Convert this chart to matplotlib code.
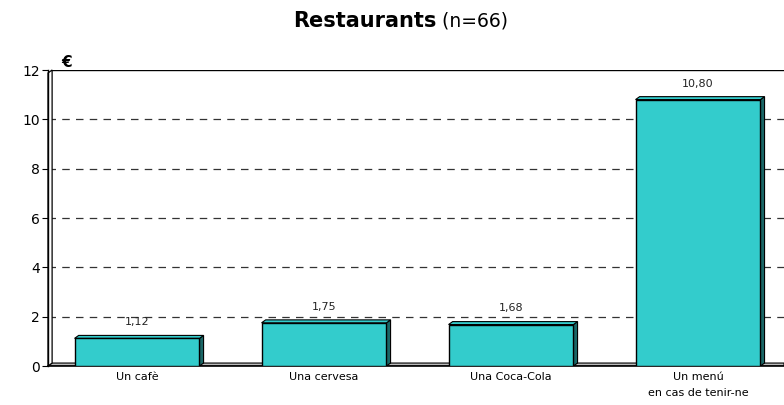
import matplotlib
matplotlib.use("Agg")
import matplotlib.pyplot as plt
from matplotlib.patches import Polygon
import numpy as np

categories = ["Un cafè", "Una cervesa", "Una Coca-Cola", "Un menú\nen cas de tenir-ne"]
values = [1.12, 1.75, 1.68, 10.80]
value_labels = ["1,12", "1,75", "1,68", "10,80"]
yticks = [0, 2, 4, 6, 8, 10, 12]

plt.rcParams['font.family'] = ['DejaVu Sans']

fig = plt.figure(figsize=(7.84, 4.05), dpi=100)
ax = fig.add_axes([48/784, 39/405, 1 - 48/784, (366-70)/405])

x = np.arange(len(categories))
w = 0.668
face = "#33CCCC"
side = "#1A6666"
dx = 0.022  # depth offset in x (data units)
dy = 0.12   # depth offset in y (data units)
xl, xr = -0.476, 3.46

ax.set_xlim(xl, xr)
ax.set_ylim(0, 12)

for yv in yticks[1:-1]:
    ax.axhline(yv, color="#333333", lw=0.9, ls=(0, (6, 5)), zorder=1)
ax.plot([xl + dx, xr], [12, 12], color="black", lw=1.0, zorder=1)

# left wall
ax.add_patch(Polygon([[xl, 0], [xl + dx, dy], [xl + dx, 12], [xl, 12 - dy]],
                     closed=True, facecolor="white", edgecolor="black", lw=0.9, zorder=1.7,
                     clip_on=False))
# floor
ax.add_patch(Polygon([[xl, 0], [xl + dx, dy], [xr, dy], [xr, 0]],
                     closed=True, facecolor="#BBBBBB", edgecolor="black", lw=0.8, zorder=1.5))

for xi, v, lab in zip(x, values, value_labels):
    left = xi - w/2
    right = xi + w/2
    # side face
    ax.add_patch(Polygon([[right, 0], [right + dx, dy], [right + dx, v + dy], [right, v]],
                         closed=True, facecolor=side, edgecolor="black", lw=0.8, zorder=2))
    # top face
    ax.add_patch(Polygon([[left, v], [left + dx, v + dy], [right + dx, v + dy], [right, v]],
                         closed=True, facecolor=face, edgecolor="black", lw=0.8, zorder=2))
    ax.bar(xi, v, width=w, color=face, edgecolor="black", lw=1.0, zorder=3)
    ax.text(xi, v + 0.45, lab, ha="center", va="bottom", fontsize=8, color="#222222", zorder=4)

ax.set_yticks(yticks)
ax.set_yticklabels([str(t) for t in yticks], fontsize=10)
ax.set_xticks(x)
ax.set_xticklabels(categories, fontsize=8, linespacing=1.75)
ax.tick_params(axis="x", length=0, pad=4)
ax.tick_params(axis="y", length=4, width=0.8, pad=2)

for s in ["top", "right"]:
    ax.spines[s].set_visible(False)
ax.spines["left"].set_linewidth(1.0)
ax.spines["bottom"].set_linewidth(1.2)

ax.text(0.018, 1.0, "€", transform=ax.transAxes, fontsize=11, fontweight="bold",
        ha="left", va="bottom")

fig.text(0.5565, 0.948, "Restaurants", fontsize=15, fontweight="bold", ha="right", va="center")
fig.text(0.5565, 0.948, " (n=66)", fontsize=13.5, ha="left", va="center")

fig.savefig("out.png", dpi=100)
